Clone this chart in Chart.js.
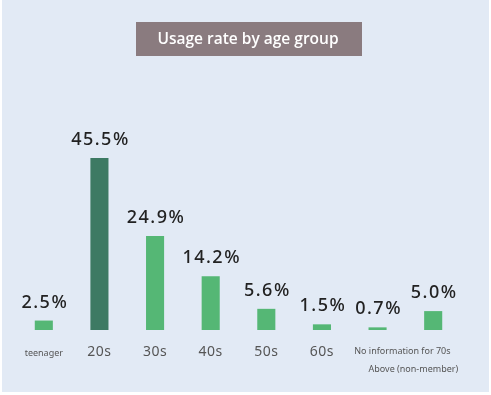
<!DOCTYPE html>
<html>
<head>
<meta charset="utf-8">
<script src="https://cdn.jsdelivr.net/npm/chart.js@4/dist/chart.umd.min.js"></script>
<style>
  html, body { margin: 0; padding: 0; background: #ffffff; }
  #wrap { width: 491px; height: 395px; position: relative; }
</style>
</head>
<body>
<div id="wrap"><canvas id="mycanvas" width="491" height="395"></canvas></div>
<script>
var ageGroups = ['teenager', '20s', '30s', '40s', '50s', '60s', 'No information for 70s', 'Above (non-member)'];
var usageRate = [2.5, 45.5, 24.9, 14.2, 5.6, 1.5, 0.7, 5.0];
var chartTitle = 'Usage rate by age group';

var barColors = usageRate.map(function(v, i) {
    return i === 1 ? '#3d7a63' : '#55b775';
});

// light blue panel + title box
var panelPlugin = {
    id: 'panel',
    beforeDraw: function(chart) {
        var ctx = chart.ctx;
        ctx.save();
        ctx.fillStyle = '#e2eaf5';
        ctx.fillRect(2, 0, 487, 392);
        ctx.fillStyle = '#8a7b7f';
        ctx.fillRect(136, 22, 226, 34);
        ctx.fillStyle = '#ffffff';
        ctx.font = '600 15.5px "Open Sans", sans-serif';
        ctx.textAlign = 'center';
        ctx.textBaseline = 'middle';
        ctx.fillText(chartTitle, 248, 40);
        ctx.restore();
    }
};

// percent labels above bars and the category names under them
var labelPlugin = {
    id: 'labels',
    afterDatasetsDraw: function(chart) {
        var ctx = chart.ctx;
        var meta = chart.getDatasetMeta(0);
        ctx.save();
        ctx.fillStyle = '#222222';
        ctx.font = '500 18px "Noto Sans", sans-serif';
        ctx.letterSpacing = '1.5px';
        ctx.textAlign = 'center';
        ctx.textBaseline = 'alphabetic';
        meta.data.forEach(function(bar, i) {
            ctx.fillText(usageRate[i].toFixed(1) + '%', bar.x + 1, bar.y - 13);
        });
        ctx.letterSpacing = '0px';

        var xs = chart.scales.x;
        var mid = (xs.getPixelForValue(6) + xs.getPixelForValue(7)) / 2;
        ctx.fillStyle = '#555555';
        ageGroups.forEach(function(name, i) {
            var x = xs.getPixelForValue(i);
            var y = 356;
            if (name.length > 5) {
                ctx.font = '9px "Noto Sans", sans-serif';
            } else {
                ctx.font = '14px "Noto Sans", sans-serif';
                ctx.letterSpacing = '0.5px';
            }
            if (i === 6) { x = mid - 3; y = 354; }
            if (i === 7) { x = mid + 8; y = 372; }
            ctx.fillText(name, x, y);
            ctx.letterSpacing = '0px';
        });
        ctx.restore();
    }
};

var chartdata = {
    labels: ageGroups,
    datasets: [{
        label: chartTitle,
        backgroundColor: barColors,
        borderWidth: 0,
        data: usageRate,
        barPercentage: 0.65,
        categoryPercentage: 0.5
    }]
};

var barGraph = new Chart(document.getElementById('mycanvas'), {
    type: 'bar',
    data: chartdata,
    plugins: [panelPlugin, labelPlugin],
    options: {
        responsive: false,
        animation: false,
        layout: { padding: { left: 16, right: 30, top: 0, bottom: 65 } },
        plugins: {
            legend: { display: false },
            tooltip: { enabled: false }
        },
        scales: {
            x: {
                display: false
            },
            y: {
                display: false,
                min: 0,
                max: 87.3
            }
        }
    }
});
</script>
</body>
</html>
